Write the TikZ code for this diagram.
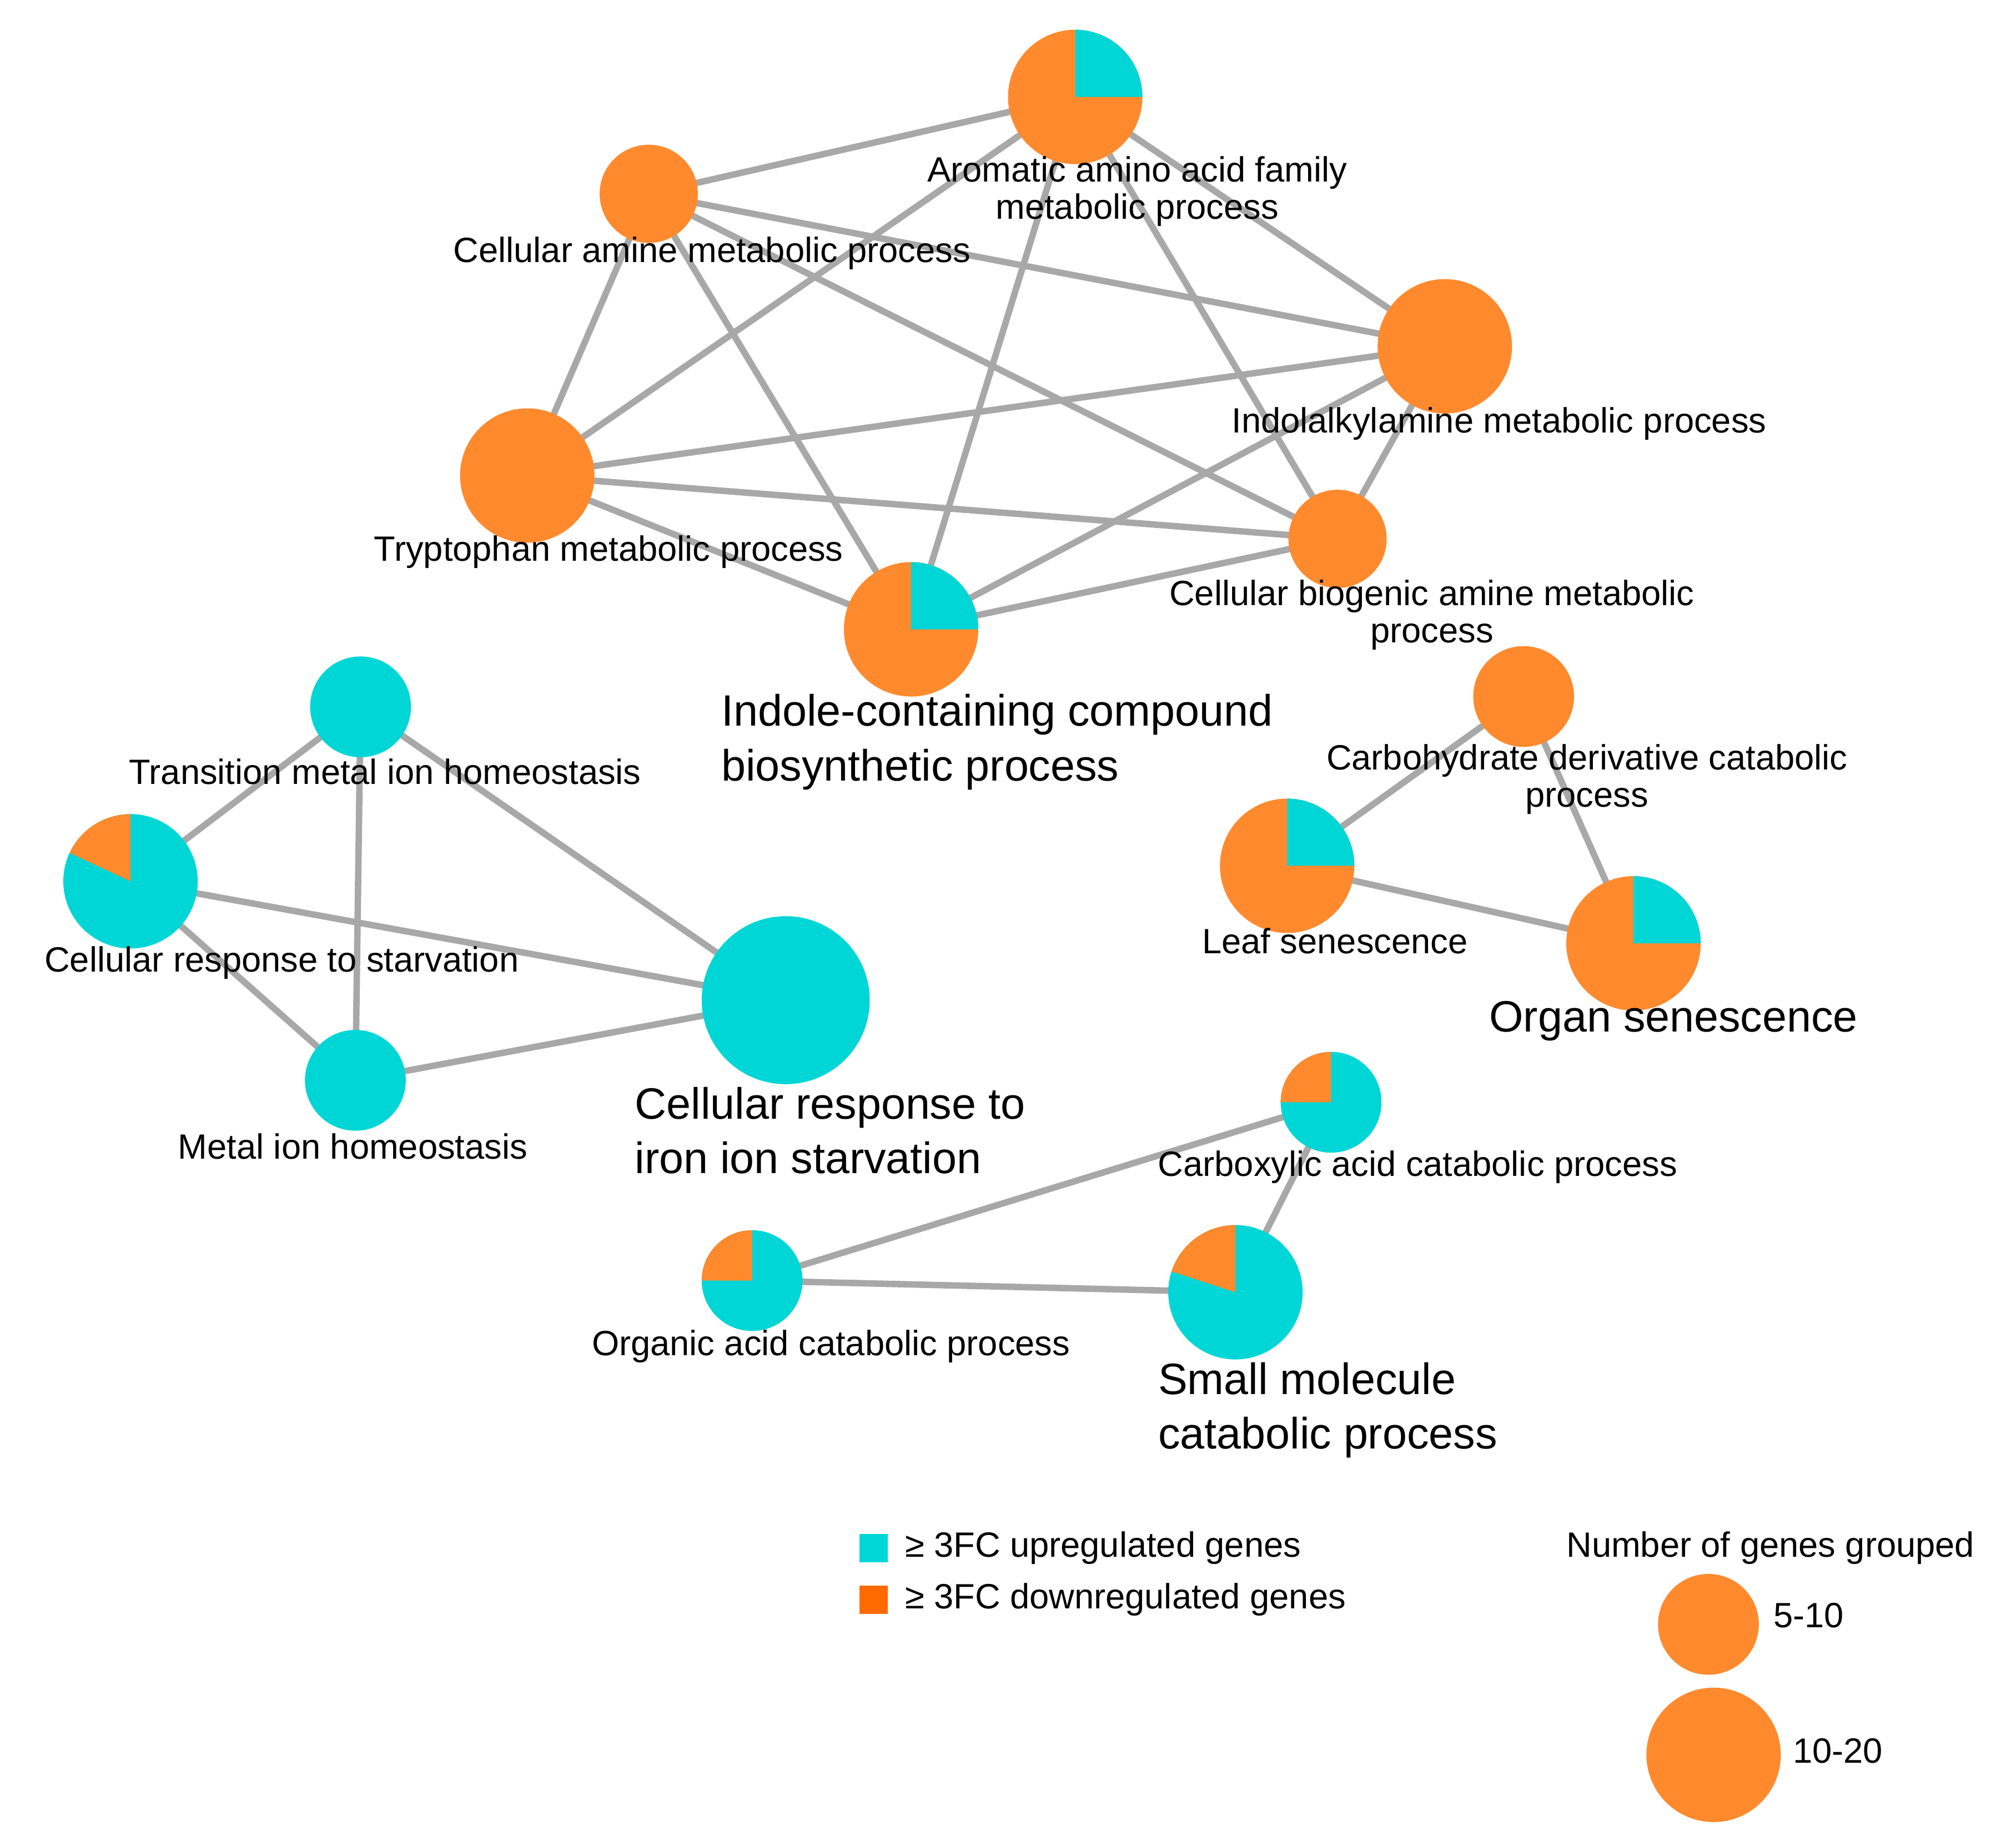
\documentclass[tikz,border=0pt]{standalone}
\usepackage{fontspec}
\setmainfont{Liberation Sans}
\usetikzlibrary{backgrounds}
\definecolor{upc}{HTML}{00D6D6}
\definecolor{downc}{HTML}{FF8A2E}
\definecolor{legdown}{HTML}{FF6A00}
\definecolor{edgec}{HTML}{A8A8A8}
\tikzset{
  term/.style={circle,inner sep=0pt,minimum size=#1},
  lbl/.style={font=\fontsize{18}{19}\selectfont,inner sep=0pt,align=center},
  biglbl/.style={font=\fontsize{22.5}{28}\selectfont,inner sep=0pt,align=left},
  link/.style={edgec,line width=3.3pt}
}
% \gterm{name}{pos}{radius px}{base colour}
\newcommand{\gterm}[4]{\node[term={2*#3*0.02328cm},fill=#4] (#1) at (#2) {};}
% \gwedge{name}{radius px}{colour}{start}{end}
\newcommand{\gwedge}[5]{\fill[#3] (#1.center) -- ++(#4:{#2*0.02328cm}) arc[start angle=#4,end angle=#5,radius={#2*0.02328cm}] -- cycle;}
\begin{document}
\begin{tikzpicture}[x=0.02328cm,y=-0.02328cm]
\useasboundingbox (0,0) rectangle (1560,1413);
			% terms
			\gterm{arom}{832,75}{52}{downc}
			\gwedge{arom}{52}{upc}{0}{90}
			\gterm{camine}{502,150}{38}{downc}
			\gterm{indal}{1118,268}{52}{downc}
			\gterm{trp}{408,368}{52}{downc}
			\gterm{biog}{1035,417}{38}{downc}
			\gterm{indole}{705,487}{52}{downc}
			\gwedge{indole}{52}{upc}{0}{90}
			\gterm{trans}{279,547}{39}{upc}
			\gterm{starv}{101,682}{52}{upc}
			\gwedge{starv}{52}{downc}{90}{155}
			\gterm{metal}{275,836}{39}{upc}
			\gterm{iron}{608,774}{65}{upc}
			\gterm{carbo}{1179,539}{39}{downc}
			\gterm{leaf}{996,670}{52}{downc}
			\gwedge{leaf}{52}{upc}{0}{90}
			\gterm{organ}{1264,730}{52}{downc}
			\gwedge{organ}{52}{upc}{0}{90}
			\gterm{carbox}{1030,853}{39}{upc}
			\gwedge{carbox}{39}{downc}{90}{180}
			\gterm{orgac}{582,991}{39}{upc}
			\gwedge{orgac}{39}{downc}{90}{180}
			\gterm{small}{956,1000}{52}{upc}
			\gwedge{small}{52}{downc}{90}{162}
			% links
			\begin{scope}[on background layer]
			\foreach \a/\b in {arom/camine,arom/indal,arom/trp,arom/indole,arom/biog,
			  camine/trp,camine/indole,camine/indal,camine/biog,
			  indal/trp,indal/indole,indal/biog,trp/indole,trp/biog,indole/biog,
			  trans/starv,trans/metal,trans/iron,starv/iron,starv/metal,metal/iron,
			  carbo/leaf,carbo/organ,leaf/organ,carbox/orgac,carbox/small,orgac/small}
			\draw[link] (\a.center) -- (\b.center);
			\end{scope}
			% labels
			\node[lbl] (l-arom) at (880,148) {Aromatic amino acid family\\metabolic process};
			\node[lbl] (l-camine) at (551,196) {Cellular amine metabolic process};
			\node[lbl] (l-indal) at (1160,328) {Indolalkylamine metabolic process};
			\node[lbl] (l-trp) at (471,427) {Tryptophan metabolic process};
			\node[lbl] (l-biog) at (1108,476) {Cellular biogenic amine metabolic\\process};
			\node[biglbl,anchor=north west] (l-indole) at (558,537) {Indole-containing compound\\biosynthetic process};
			\node[lbl] (l-trans) at (298,597) {Transition metal ion homeostasis};
			\node[lbl] (l-starv) at (218,745) {Cellular response to starvation};
			\node[lbl] (l-metal) at (273,887) {Metal ion homeostasis};
			\node[biglbl,anchor=north west] (l-iron) at (491,841) {Cellular response to\\iron ion starvation};
			\node[lbl] (l-carbo) at (1228,603) {Carbohydrate derivative catabolic\\process};
			\node[lbl] (l-leaf) at (1033,728) {Leaf senescence};
			\node[biglbl] (l-organ) at (1295,790) {Organ senescence};
			\node[lbl] (l-carbox) at (1097,903) {Carboxylic acid catabolic process};
			\node[lbl] (l-orgac) at (643,1042) {Organic acid catabolic process};
			\node[biglbl,anchor=north west] (l-small) at (896,1054) {Small molecule\\catabolic process};
			% legend
			\node[fill=upc,minimum size={22*0.02328cm},inner sep=0pt] (k-up) at (676,1198) {};
			\node[fill=legdown,minimum size={22*0.02328cm},inner sep=0pt] (k-down) at (676,1238) {};
			\node[lbl,anchor=west] (t-up) at (700,1198) {≥ 3FC upregulated genes};
			\node[lbl,anchor=west] (t-down) at (700,1238) {≥ 3FC downregulated genes};
			\node[lbl] (t-num) at (1370,1198) {Number of genes grouped};
			\gterm{k-small}{1322,1257}{39}{downc}
			\gterm{k-big}{1326,1358}{52}{downc}
			\node[lbl,anchor=west] (t-small) at (1372,1250) {5-10};
			\node[lbl,anchor=west] (t-big) at (1387,1355) {10-20};
		\end{tikzpicture}
\end{document}
